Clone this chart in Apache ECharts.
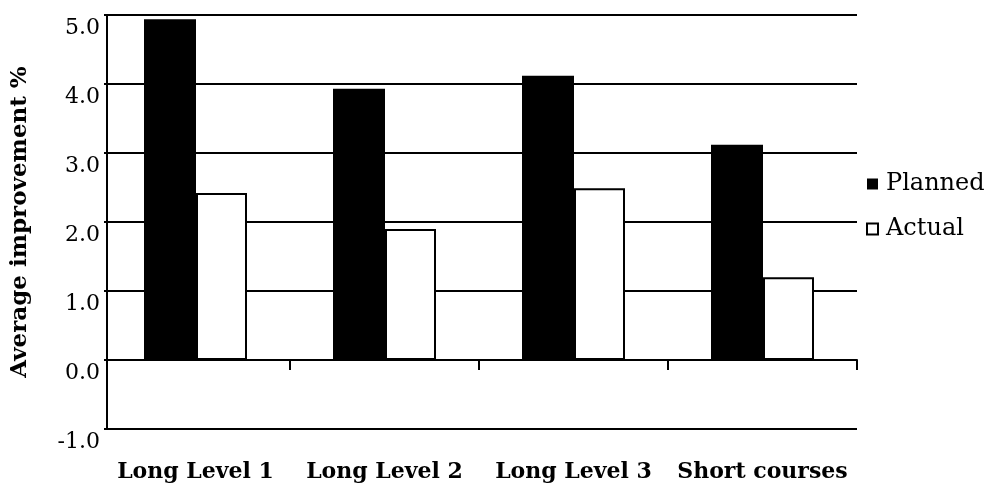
<!DOCTYPE html>
<html>
<head>
<meta charset="utf-8">
<script src="https://cdn.jsdelivr.net/npm/echarts@6/dist/echarts.min.js"></script>
<style>
html,body{margin:0;padding:0;background:#fff;}
#chart{width:990px;height:485px;}
</style>
</head>
<body>
<div id="chart"></div>
<script>
const categories = ['Long Level 1', 'Long Level 2', 'Long Level 3', 'Short courses'];
const planned = [4.94, 3.93, 4.12, 3.12];
const actual = [2.42, 1.90, 2.49, 1.20];
const yMin = -1, yMax = 5, yStep = 1;

const chart = echarts.init(document.getElementById('chart'), null, {renderer: 'canvas'});
const black = '#000';
const serif = 'DejaVu Serif';

chart.setOption({
  animation: false,
  backgroundColor: '#fff',
  grid: [
    {left: 101, top: 15, width: 756, height: 414, containLabel: false, outerBoundsMode: 'none'},
    {left: 107, top: 15, width: 750, height: 414, containLabel: false, outerBoundsMode: 'none'}
  ],
  xAxis: [
    {
      gridIndex: 0, type: 'category', data: categories, position: 'bottom',
      axisLine: {show: false, onZero: false},
      axisTick: {show: false},
      axisLabel: {interval: 0, margin: 32, color: black, fontFamily: serif, fontWeight: 'bold', fontSize: 22}
    },
    {
      gridIndex: 0, type: 'category', data: categories, position: 'bottom',
      axisLine: {show: false, onZero: true},
      axisTick: {show: true, length: 10, lineStyle: {color: black, width: 2},
        interval: function (idx) { return idx !== 0; }},
      axisLabel: {show: false}
    },
    {
      gridIndex: 1, type: 'category', data: categories, position: 'bottom',
      axisLine: {show: true, onZero: true, lineStyle: {color: black, width: 2}},
      axisTick: {show: false},
      axisLabel: {show: false}
    }
  ],
  yAxis: [
    {gridIndex: 0, type: 'value', min: yMin, max: yMax, interval: yStep, show: false},
    {
      gridIndex: 1, type: 'value', min: yMin, max: yMax, interval: yStep,
      name: 'Average improvement %', nameLocation: 'middle', nameGap: 75,
      nameTextStyle: {color: black, fontFamily: serif, fontWeight: 'bold', fontSize: 23},
      axisLine: {show: true, lineStyle: {color: black, width: 2}},
      axisTick: {show: true, length: 3, lineStyle: {color: black, width: 2}},
      splitLine: {show: true, lineStyle: {color: black, width: 2}},
      axisLabel: {color: black, fontFamily: serif, fontSize: 22, margin: 7,
        verticalAlign: 'top', padding: [2, 0, 0, 0],
        formatter: function (v) { return v.toFixed(1); }}
    }
  ],
  legend: {
    orient: 'vertical', left: 866, top: 172, padding: 0,
    icon: 'rect', itemWidth: 11, itemHeight: 11, itemGap: 21,
    textStyle: {color: black, fontFamily: serif, fontSize: 24, padding: [0, 0, 0, 3]},
    data: ['Planned', 'Actual']
  },
  series: [
    {
      name: 'Planned', type: 'bar', xAxisIndex: 0, yAxisIndex: 0,
      data: planned, barWidth: 52, barGap: '0%',
      itemStyle: {color: black}
    },
    {
      name: 'Actual', type: 'bar', xAxisIndex: 0, yAxisIndex: 0,
      data: actual, barWidth: 51, barGap: '0%',
      itemStyle: {color: '#fff', borderColor: black, borderWidth: 2}
    }
  ]
});
</script>
</body>
</html>
